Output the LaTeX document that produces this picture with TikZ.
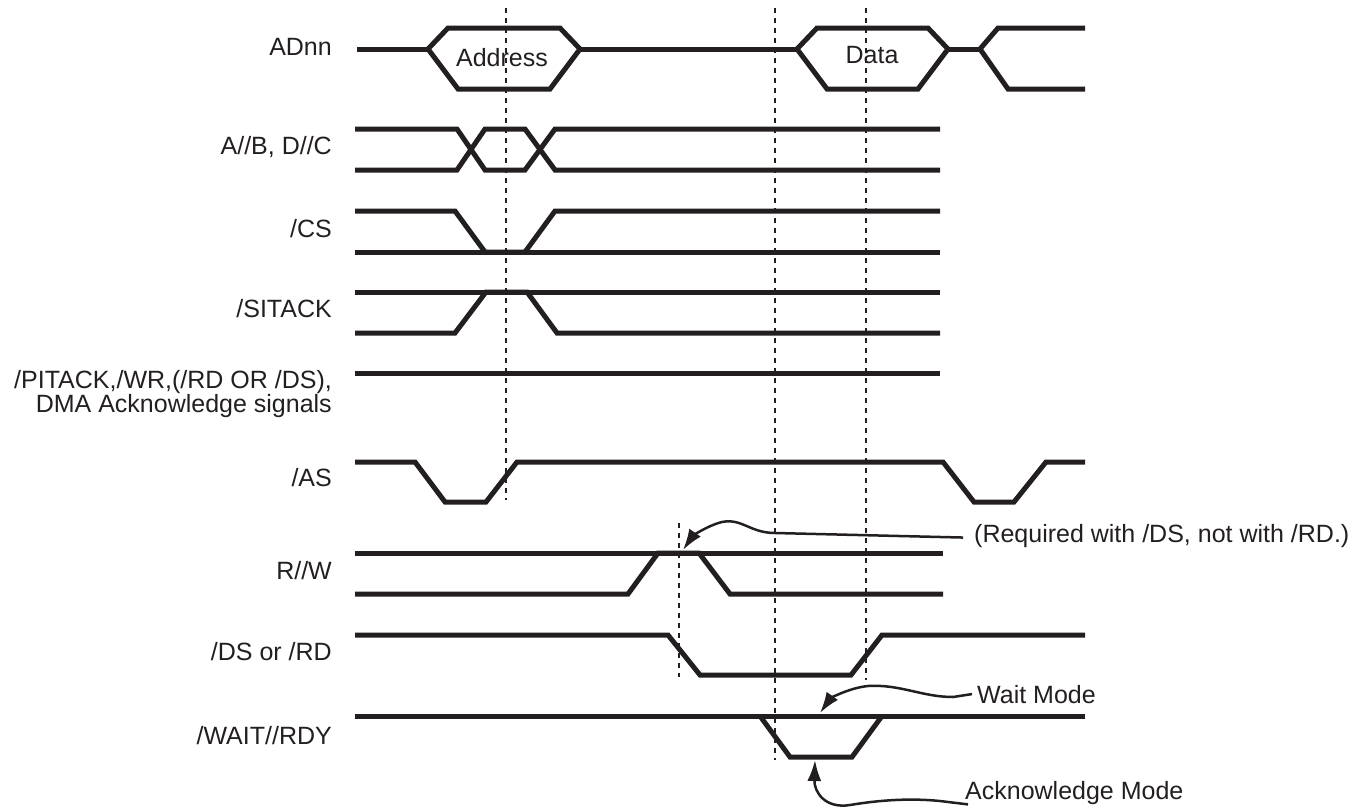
\documentclass[tikz,border=0pt]{standalone}
\usepackage{fontspec}
\setmainfont{Liberation Sans}
\usetikzlibrary{arrows.meta}
\definecolor{ink}{HTML}{231F20}
\begin{document}
\begin{tikzpicture}[x=1pt,y=-1pt,
  sig/.style={line width=5pt, draw=ink, line join=miter},
  guide/.style={line width=2.5pt, draw=ink, dash pattern=on 5pt off 5pt},
  lbl/.style={anchor=base east, inner sep=0pt, font=\fontsize{25}{24}\selectfont, text=ink},
  note/.style={anchor=base west, inner sep=0pt, font=\fontsize{25}{24}\selectfont, text=ink},
  inlbl/.style={anchor=base, inner sep=0pt, font=\fontsize{25}{24}\selectfont, text=ink},
  callout/.style={line width=2.5pt, draw=ink, -{Latex[length=21pt,width=14pt]}}]
\useasboundingbox (0,0) rectangle (1372,811);

% labels
\node[lbl] (lAD) at (332,55) {ADnn};
\node[lbl] (lAB) at (332,154) {A//B, D//C};
\node[lbl] (lCS) at (332,237) {/CS};
\node[lbl] (lSI) at (332,317) {/SITACK};
\node[lbl, anchor=east, align=right] (lPI) at (332,394.5) {/PITACK,/WR,(/RD OR /DS),\\DMA Acknowledge signals};
\node[lbl] (lAS) at (332,486) {/AS};
\node[lbl] (lRW) at (332,579) {R//W};
\node[lbl] (lDS) at (332,660) {/DS or /RD};
\node[lbl] (lWT) at (332,744) {/WAIT//RDY};

% ADnn
\draw[sig] (357,49) -- (428,49);
\draw[sig] (428,49) -- (448,28) -- (560,28) -- (580,49) -- (550,89) -- (458,89) -- cycle;
\draw[sig] (580,49) -- (797,49);
\draw[sig] (797,49) -- (817,28) -- (928,28) -- (948,49) -- (918,89) -- (827,89) -- cycle;
\draw[sig] (948,49) -- (980,49);
\draw[sig] (1085,28) -- (998,28) -- (980,49) -- (1008,89) -- (1085,89);
\node[inlbl] (addr) at (502,66) {Address};
\node[inlbl] (data) at (872,63) {Data};

% A//B, D//C
\draw[sig] (355,129) -- (457,129) -- (485,170) -- (525,170) -- (555,129) -- (940,129);
\draw[sig] (355,170) -- (457,170) -- (485,129) -- (525,129) -- (555,170) -- (940,170);

% /CS
\draw[sig] (355,211) -- (455,211) -- (485,252) -- (525,252) -- (555,211) -- (940,211);
\draw[sig] (355,252) -- (940,252);

% /SITACK
\draw[sig] (355,292) -- (940,292);
\draw[sig] (355,333) -- (455,333) -- (486,292) -- (527,292) -- (557,333) -- (940,333);

% /PITACK
\draw[sig] (355,373) -- (940,373);

% /AS
\draw[sig] (355,462) -- (415,462) -- (445,502) -- (486,502) -- (517,462) -- (943,462)
  -- (974,502) -- (1014,502) -- (1046,462) -- (1085,462);

% R//W
\draw[sig] (355,553) -- (943,553);
\draw[sig] (355,594) -- (628,594) -- (658,553) -- (699,553) -- (730,594) -- (943,594);

% /DS or /RD
\draw[sig] (355,635) -- (668,635) -- (700,675) -- (851,675) -- (882,635) -- (1085,635);

% /WAIT//RDY
\draw[sig] (355,716) -- (1085,716);
\draw[sig] (760,716) -- (790,757) -- (852,757) -- (882,716);

% guides
\draw[guide] (506,8) -- (506,500);
\draw[guide] (775,8) -- (775,760);
\draw[guide] (866,8) -- (866,680);
\draw[guide] (679,523) -- (679,677);

% notes
\node[note] (req) at (974,542) {(Required with /DS, not with /RD.)};
\node[note] (wait) at (977,703) {Wait Mode};
\node[note] (ack) at (965,799) {Acknowledge Mode};

\coordinate (rwtip) at (683,550);
\coordinate (waittip) at (820,713);
\coordinate (acktip) at (815,760);

\draw[callout] ([xshift=-11pt,yshift=-2pt]req.west) -- (775,533)
  .. controls (750,533) and (742,518) .. (722,522)
  .. controls (706,526) and (692,537) .. (rwtip);
\draw[callout] ([xshift=-5pt]wait.west) -- (953,697)
  .. controls (922,697) and (900,684) .. (868,686)
  .. controls (848,688) and (830,699) .. (waittip);
\draw[callout] ([xshift=3pt]ack.south west) -- (940,801)
  .. controls (910,798) and (880,800) .. (850,805)
  .. controls (825,809) and (814,792) .. (acktip);
\end{tikzpicture}
\end{document}
